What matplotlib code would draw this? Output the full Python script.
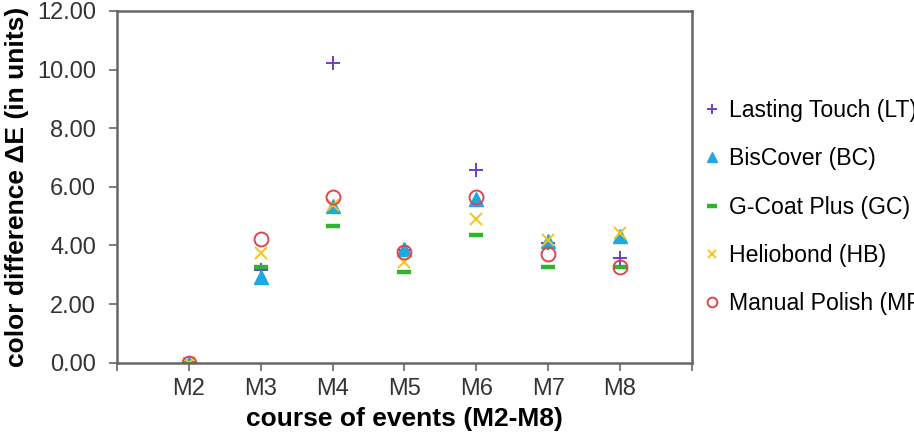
import numpy as np
import matplotlib.pyplot as plt

plt.rcParams['font.family'] = ['Liberation Sans', 'DejaVu Sans']

events = ['M2', 'M3', 'M4', 'M5', 'M6', 'M7', 'M8']
lt = [0.0, 3.15, 10.22, 3.85, 6.58, 4.10, 3.57]
bc = [0.0, 2.94, 5.33, 3.88, 5.58, 4.14, 4.31]
gc = [0.0, 3.28, 4.68, 3.08, 4.36, 3.25, 3.28]
hb = [0.0, 3.74, 5.39, 3.45, 4.91, 4.19, 4.42]
mp = [0.0, 4.22, 5.67, 3.77, 5.67, 3.72, 3.28]

x = np.arange(1, len(events) + 1)

fig = plt.figure(figsize=(9.14, 4.34), dpi=100)
ax = fig.add_axes([0.128, 0.164, 0.629, 0.811])

ax.plot(x, lt, ls='none', marker='+', ms=10, mew=1.4, color='#6a3fc8', label='Lasting Touch (LT)')
ax.plot(x, bc, ls='none', marker='^', ms=9.5, color='#1fa8e0', label='BisCover (BC)')
ax.plot(x, gc, ls='none', marker='_', ms=9.5, mew=3.2, color='#2db52d', label='G-Coat Plus (GC)')
ax.plot(x, hb, ls='none', marker='x', ms=8.5, mew=1.4, color='#f5c518', label='Heliobond (HB)')
ax.plot(x, mp, ls='none', marker='o', ms=10, mew=1.4, mfc='none', color='#e0454f', label='Manual Polish (MP)')

ax.set_xlim(0, 8)
ax.set_ylim(0, 12)
ax.set_xticks(np.arange(0, 9))
ax.set_xticklabels([''] + events + [''])
ax.set_yticks(np.arange(0, 13, 2))
ax.set_yticklabels(['%.2f' % v for v in np.arange(0, 13, 2)])
ax.tick_params(labelsize=17, colors='#666666', labelcolor='#333333', length=6, width=1.2)
ax.tick_params(axis='y', pad=9)
ax.tick_params(axis='x', pad=5)
for s in ax.spines.values():
    s.set_color('#666666')
    s.set_linewidth(1.8)

ax.set_xlabel('course of events (M2-M8)', fontsize=19, fontweight='bold', labelpad=5)
ax.set_ylabel('color difference ΔE (in units)', fontsize=19, fontweight='bold', labelpad=6)

leg = ax.legend(loc='center left', bbox_to_anchor=(0.988, 0.442), frameon=False,
                fontsize=16.6, handlelength=0.5, handletextpad=0.5, labelspacing=1.1,
                markerscale=0.7)

fig.savefig('out.png', dpi=100)
